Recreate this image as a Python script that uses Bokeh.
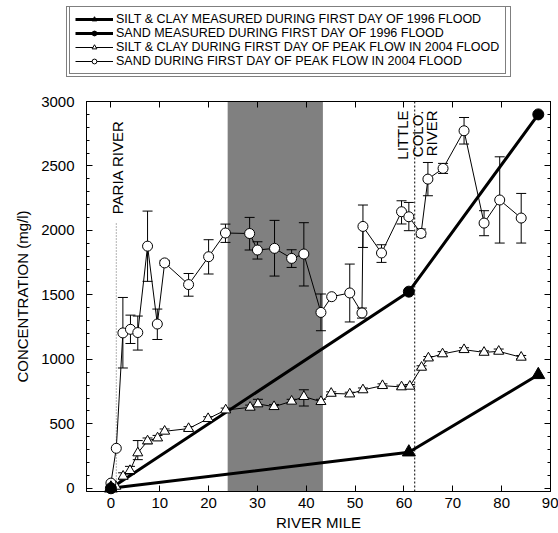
import numpy as np
from bokeh.plotting import figure
from bokeh.layouts import column
from bokeh.models import (Range1d, LinearAxis, BoxAnnotation, Span, Label, Whisker, TeeHead,
                          ColumnDataSource, Legend, LegendItem, FixedTicker, CustomJSTickFormatter)
from bokeh.embed import file_html
from bokeh.resources import INLINE

FONT = "Liberation Sans"

# ---------------- data ----------------
# 1996 flood, first day
mile_1996 = [0.0, 61.0, 87.5]
silt_1996 = [0, 280, 880]
sand_1996 = [0, 1525, 2900]

# 2004 flood, first day of peak flow: sand (open circles)
sand04_mile = [0.0, 1.1, 2.45, 4.0, 5.5, 7.5, 9.5, 11.0, 15.9, 20.0, 23.45, 28.4, 30.0, 33.5,
               37.0, 39.5, 43.0, 45.2, 48.9, 51.4, 51.6, 55.4, 59.5, 61.0, 63.5, 64.9, 68.0,
               72.3, 76.4, 79.6, 84.0]
sand04_conc = [40, 310, 1205, 1233, 1208, 1878, 1274, 1748, 1580, 1796, 1980, 1976, 1848, 1861,
               1783, 1817, 1364, 1486, 1515, 1360, 2031, 1825, 2145, 2106, 1977, 2398, 2481,
               2773, 2057, 2236, 2096]
sand04_lo = [None, None, 933, 1123, 1072, 1605, 1154, 1728, 1490, 1662, 1907, 1848, 1778, 1646,
             1713, 1569, 1222, None, 1290, 1320, 1868, 1752, 2050, 1998, 1950, 2269, 2442,
             2670, 1959, 1902, 1902]
sand04_hi = [None, None, 1480, 1343, 1336, 2150, 1390, 1768, 1666, 1928, 2049, 2101, 1912, 2078,
             1850, 2060, 1507, None, 1739, 1398, 2197, 1889, 2230, 2217, 2011, 2527, 2520,
             2876, 2153, 2571, 2287]

# 2004 flood: silt & clay (open triangles)
silt04_mile = [1.0, 2.5, 3.9, 5.5, 7.5, 9.55, 11.0, 15.9, 19.9, 23.5, 28.5, 30.1, 33.4, 37.0,
               39.5, 43.0, 45.1, 48.9, 51.6, 55.6, 59.5, 61.2, 63.6, 65.0, 67.9, 72.3, 76.4,
               79.4, 84.0]
silt04_conc = [15, 93, 137, 274, 367, 390, 442, 463, 540, 607, 628, 654, 633, 675,
               711, 672, 736, 731, 763, 796, 786, 791, 938, 1010, 1042, 1075, 1054,
               1062, 1016]
silt04_lo = [None, 70, 110, 222, 345, 370, 425, 450, 525, 592, 610, 635, 615, 660,
             638, 655, 725, 715, 748, 780, 772, 775, 925, 998, 1025, 1062, 1042,
             1048, 1005]
silt04_hi = [None, 120, 170, 370, 390, 410, 460, 478, 555, 622, 645, 690, 650, 690,
             764, 690, 748, 745, 778, 810, 800, 805, 950, 1022, 1060, 1090, 1066,
             1080, 1030]

x_ticks = [0, 10, 20, 30, 40, 50, 60, 70, 80, 90]
y_ticks = [0, 500, 1000, 1500, 2000, 2500, 3000]
y_minor = list(range(0, 3001, 100))

band_start, band_end = 23.9, 43.4
paria_mile, paria_line_top = 1.1, 2060
paria_label_mile, paria_label_y = 1.37, 2125
colo_mile = 62.2
colo_labels = ["LITTLE", "COLO.", "RIVER"]
colo_label_miles = [59.8, 62.8, 65.6]
colo_label_top = 2930

legend_labels = ["SILT & CLAY MEASURED DURING FIRST DAY OF 1996 FLOOD",
                 "SAND MEASURED DURING FIRST DAY OF 1996 FLOOD",
                 "SILT & CLAY DURING FIRST DAY OF PEAK FLOW IN 2004 FLOOD",
                 "SAND DURING FIRST DAY OF PEAK FLOW IN 2004 FLOOD"]

LEG_H = 86

# ---------------- main figure ----------------
p = figure(width=558, height=533 - LEG_H, x_range=Range1d(-5, 90), y_range=Range1d(-25, 3000),
           output_backend="svg", toolbar_location=None,
           min_border_left=86, min_border_right=8, min_border_top=101 - LEG_H, min_border_bottom=42)
p.grid.visible = False
p.outline_line_color = "black"
p.outline_line_width = 1
p.background_fill_color = "white"
p.frame_align = False

blank = CustomJSTickFormatter(code="return '';")


def style_axis(ax, ticker, labels=True):
    ax.ticker = ticker
    ax.axis_line_color = "black"
    ax.major_tick_line_color = "black"
    ax.minor_tick_line_color = "black"
    ax.major_tick_in = 6
    ax.major_tick_out = 0
    ax.minor_tick_in = 3
    ax.minor_tick_out = 0
    ax.major_label_text_font = FONT
    ax.axis_label_text_font = FONT
    ax.axis_label_text_font_style = "normal"
    ax.major_label_text_color = "black"
    ax.axis_label_text_color = "black"
    ax.major_label_text_font_size = "15px"
    ax.axis_label_text_font_size = "15px"
    if not labels:
        ax.formatter = blank
        ax.major_label_text_font_size = "1px"
        ax.major_label_standoff = 0


style_axis(p.xaxis[0], FixedTicker(ticks=x_ticks, minor_ticks=[]))
p.xaxis[0].axis_label = "RIVER MILE"
p.xaxis[0].major_label_standoff = 6
p.xaxis[0].axis_label_standoff = 3

style_axis(p.yaxis[0], FixedTicker(ticks=y_ticks, minor_ticks=y_minor))
p.yaxis[0].axis_label = "CONCENTRATION (mg/l)"
p.yaxis[0].major_label_standoff = 12
p.yaxis[0].axis_label_standoff = 7

top_ax = LinearAxis()
style_axis(top_ax, FixedTicker(ticks=x_ticks, minor_ticks=[]), labels=False)
p.add_layout(top_ax, "above")
right_ax = LinearAxis()
style_axis(right_ax, FixedTicker(ticks=y_ticks, minor_ticks=y_minor), labels=False)
p.add_layout(right_ax, "right")

# shaded reach
band = BoxAnnotation(left=band_start, right=band_end, fill_color="#808080", fill_alpha=1.0,
                     line_color=None, level="underlay")
p.add_layout(band)

# tributary markers
p.segment(x0=[paria_mile], y0=[-25], x1=[paria_mile], y1=[paria_line_top],
          line_color="#666666", line_dash="1 2", line_width=1)
p.add_layout(Span(location=colo_mile, dimension="height", line_color="black",
                  line_dash="2 2", line_width=1))

p.add_layout(Label(x=paria_label_mile, y=paria_label_y, text="PARIA RIVER", angle=np.pi / 2,
                   text_align="left", text_baseline="middle", text_font=FONT,
                   text_font_size="15px", text_color="black"))
for lab, m in zip(colo_labels, colo_label_miles):
    p.add_layout(Label(x=m, y=colo_label_top, text=lab, angle=np.pi / 2,
                       text_align="right", text_baseline="middle", text_font=FONT,
                       text_font_size="15px", text_color="black"))


# error bars
def add_whiskers(xs, lo, hi):
    xx, ll, hh = [], [], []
    for x, a, b in zip(xs, lo, hi):
        if a is not None and b is not None:
            xx.append(x); ll.append(a); hh.append(b)
    src = ColumnDataSource(dict(x=xx, lo=ll, hi=hh))
    w = Whisker(source=src, base="x", lower="lo", upper="hi", line_color="black", line_width=1,
                upper_head=TeeHead(size=10, line_width=1, line_color="black"),
                lower_head=TeeHead(size=10, line_width=1, line_color="black"))
    p.add_layout(w)


add_whiskers(sand04_mile, sand04_lo, sand04_hi)
add_whiskers(silt04_mile, silt04_lo, silt04_hi)

SILT04 = dict(marker="triangle", size=10, fill_color="white", line_color="black", line_width=1)
SAND04 = dict(marker="circle", size=10, fill_color="white", line_color="black", line_width=1)
SILT96 = dict(marker="triangle", size=13, fill_color="black", line_color="black")
SAND96 = dict(marker="circle", size=11, fill_color="black", line_color="black")

# 2004 series
p.line(silt04_mile, silt04_conc, line_color="black", line_width=1)
p.scatter(silt04_mile, silt04_conc, level="overlay", **SILT04)
p.line(sand04_mile, sand04_conc, line_color="black", line_width=1)
p.scatter(sand04_mile, sand04_conc, level="overlay", **SAND04)

# 1996 series
p.line(mile_1996, silt_1996, line_color="black", line_width=3)
p.scatter(mile_1996, silt_1996, level="overlay", **SILT96)
p.line(mile_1996, sand_1996, line_color="black", line_width=3)
p.scatter(mile_1996, sand_1996, level="overlay", **SAND96)

# ---------------- legend strip ----------------
lf = figure(width=558, height=LEG_H, x_axis_type=None, y_axis_type=None,
            x_range=Range1d(0, 1), y_range=Range1d(0, 1),
            output_backend="svg", toolbar_location=None,
            min_border=0, min_border_left=0, min_border_right=0,
            min_border_top=0, min_border_bottom=0)
lf.outline_line_color = None
lf.grid.visible = False
lf.frame_align = False

nan = [np.nan]
lg = []
for lw, st in [(3, SILT96), (3, SAND96), (1, SILT04), (1, SAND04)]:
    r_l = lf.line(nan, nan, line_color="black", line_width=lw)
    r_m = lf.scatter(nan, nan, **st)
    lg.append([r_l, r_m])

dummy = lf.scatter(nan, nan, marker="circle", size=1, fill_alpha=0, line_alpha=0)
outer = Legend(items=[LegendItem(label=" ", renderers=[dummy])], location=(66, 9))
outer.padding = 0
outer.margin = 0
outer.glyph_width = 1
outer.glyph_height = 69
outer.label_height = 69
outer.label_width = 442
outer.label_standoff = 0
outer.label_text_font_size = "1px"
outer.border_line_color = "black"
outer.border_line_width = 1
outer.background_fill_color = "white"
outer.background_fill_alpha = 1.0
lf.add_layout(outer, "center")

legend = Legend(items=[LegendItem(label=t, renderers=r) for t, r in zip(legend_labels, lg)],
                location=(69, 12))
legend.label_text_font = FONT
legend.label_text_font_size = "12.5px"
legend.label_text_color = "black"
legend.label_height = 12
legend.glyph_height = 12
legend.glyph_width = 38
legend.label_standoff = 3
legend.label_width = 384
legend.spacing = 0
legend.padding = 5
legend.margin = 0
legend.border_line_color = "black"
legend.border_line_width = 1
legend.background_fill_color = "white"
legend.background_fill_alpha = 1.0
lf.add_layout(legend, "center")

page = column(lf, p, spacing=0)
open("out.html", "w").write(file_html(page, INLINE))
